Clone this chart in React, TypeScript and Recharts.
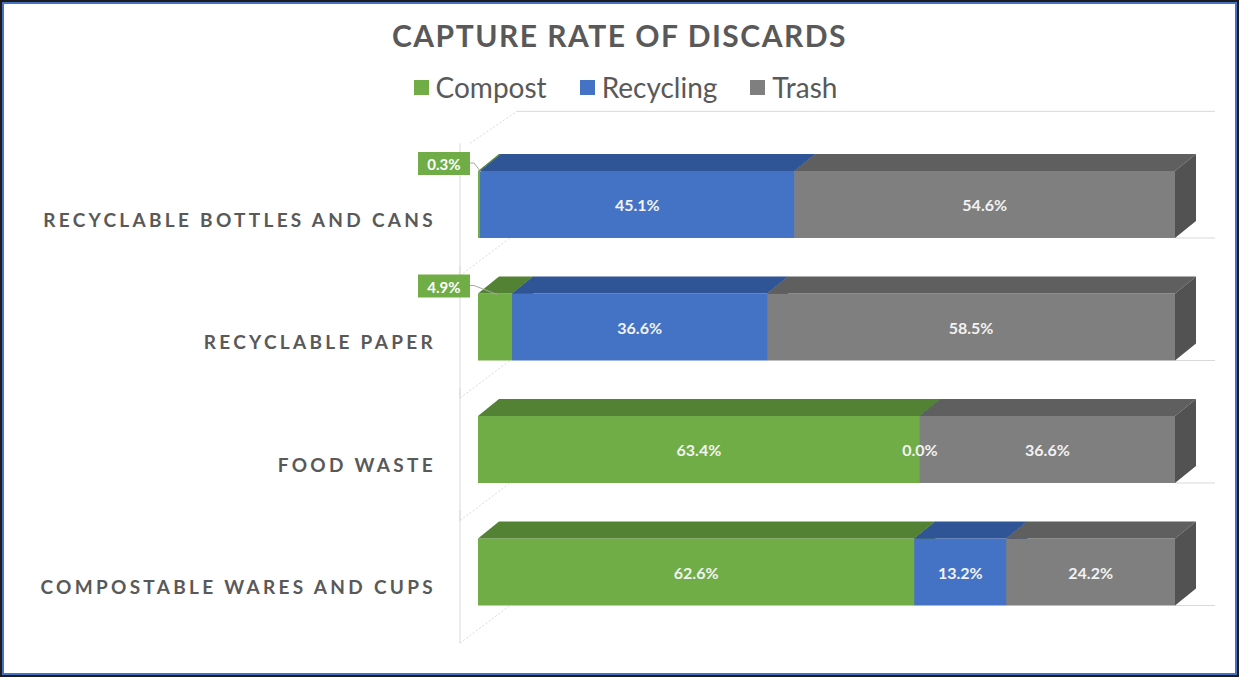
import React from "react";
import { BarChart, Bar, XAxis, YAxis, LabelList } from "recharts";

const categories = [
  "RECYCLABLE BOTTLES AND CANS",
  "RECYCLABLE PAPER",
  "FOOD WASTE",
  "COMPOSTABLE WARES AND CUPS",
];
const compost = [0.3, 4.9, 63.4, 62.6];
const recycling = [45.1, 36.6, 0.0, 13.2];
const trash = [54.6, 58.5, 36.6, 24.2];

const series = [
  { key: "compost", name: "Compost", front: "#70ad47", top: "#548235", side: "#4e7a31" },
  { key: "recycling", name: "Recycling", front: "#4472c4", top: "#2f5597", side: "#2c4f8c" },
  { key: "trash", name: "Trash", front: "#7f7f7f", top: "#5f5f5f", side: "#525252" },
];

const data = categories.map((name, i) => ({
  name,
  compost: compost[i],
  recycling: recycling[i],
  trash: trash[i],
}));

const FONT = "Lato, 'Open Sans', sans-serif";
const TEXT = "#595959";
const DX = 21;
const DY = 17;
const WALL = "#d9d9d9";

function make3D(s: (typeof series)[number], isFirst: boolean, isLast: boolean) {
  return (props: any) => {
    const { x, y, width, height, background, index } = props;
    const w = Math.max(0, width);
    const bgx = background ? background.x : x;
    const bgw = background ? background.width : 0;
    const gap = (122.33 - height) / 2;
    return (
      <g>
        {isFirst && (
          <g stroke={WALL} fill="none" strokeWidth={1}>
            <line x1={bgx - 18} y1={y - gap} x2={bgx - 18} y2={y + height + gap + 10} />
            <line
              x1={bgx - 18}
              y1={y + height + gap + 10}
              x2={bgx + 32}
              y2={y + height}
              strokeDasharray="2 2"
            />
            {index === 0 && (
              <>
                <line x1={bgx - 8} y1={y - gap} x2={bgx + 39} y2={y - gap - 32} strokeDasharray="2 2" />
                <line x1={bgx + 39} y1={y - gap - 32} x2={bgx + bgw + 40} y2={y - gap - 32} />
              </>
            )}
          </g>
        )}
        {isLast && (
          <line x1={x + w} y1={y + height} x2={x + w + 40} y2={y + height} stroke={WALL} />
        )}
        <rect x={x} y={y} width={w} height={height} fill={s.front} />
        <polygon
          points={`${x},${y} ${x + DX},${y - DY} ${x + w + DX},${y - DY} ${x + w},${y}`}
          fill={s.top}
        />
        <polygon
          points={`${x + w},${y} ${x + w + DX},${y - DY} ${x + w + DX},${y + height - DY} ${x + w},${y + height}`}
          fill={s.side}
        />
      </g>
    );
  };
}

function makeLabel(s: (typeof series)[number]) {
  return (props: any) => {
    const { x, y, width, height, value } = props;
    const text = `${Number(value).toFixed(1)}%`;
    if (s.key === "compost" && value < 10) {
      const bx = x - 60;
      const by = y - 19;
      return (
        <g>
          <polyline
            points={`${bx + 52},${by + 11} ${bx + 56},${by + 11} ${x + width / 2 + 2},${y + 1}`}
            fill="none"
            stroke="#a6a6a6"
            strokeWidth={1}
          />
          <rect x={bx} y={by} width={52} height={23} fill={s.front} />
          <text
            x={bx + 26}
            y={by + 12}
            textAnchor="middle"
            dominantBaseline="central"
            fill="#ffffff"
            fontFamily={FONT}
            fontWeight={700}
            fontSize={15}
          >
            {text}
          </text>
        </g>
      );
    }
    return (
      <text
        x={x + width / 2}
        y={y + height / 2}
        textAnchor="middle"
        dominantBaseline="central"
        fill="#f2f2f2"
        fontFamily={FONT}
        fontWeight={700}
        fontSize={16}
      >
        {text}
      </text>
    );
  };
}

const CategoryTick = (props: any) => {
  const { x, y, payload } = props;
  return (
    <text
      x={x}
      y={y + 15}
      textAnchor="end"
      dominantBaseline="central"
      fill={TEXT}
      fontFamily={FONT}
      fontWeight={700}
      fontSize={19}
      letterSpacing={3.3}
    >
      {payload.value}
    </text>
  );
};

export default function App() {
  return (
    <div
      style={{
        position: "absolute",
        left: 0,
        top: 0,
        width: 1239,
        height: 677,
        boxSizing: "border-box",
        border: "2px solid #1c1c1c",
        background: "#fff",
      }}
    >
      <div
        style={{
          position: "absolute",
          inset: 0,
          border: "2px solid #4472c4",
          boxSizing: "border-box",
        }}
      />
      <div
        style={{
          position: "absolute",
          left: -2,
          top: 15,
          width: 1239,
          textAlign: "center",
          fontFamily: FONT,
          fontWeight: 700,
          fontSize: 30,
          color: TEXT,
          letterSpacing: 1.5,
        }}
      >
        CAPTURE RATE OF DISCARDS
      </div>
      <div
        style={{
          position: "absolute",
          left: 4,
          top: 68,
          width: 1239,
          display: "flex",
          justifyContent: "center",
          gap: 33,
          fontFamily: FONT,
          fontSize: 28,
          color: TEXT,
        }}
      >
        {series.map((s) => (
          <div key={s.key} style={{ display: "flex", alignItems: "center", gap: 7 }}>
            <span style={{ width: 15, height: 15, background: s.front, display: "inline-block" }} />
            <span>{s.name}</span>
          </div>
        ))}
      </div>
      <div style={{ position: "absolute", left: -2, top: -2 }}>
        <BarChart
          width={1239}
          height={677}
          data={data}
          layout="vertical"
          margin={{ top: 143, right: 64, bottom: 44, left: 0 }}
          barSize={67}
        >
          <XAxis type="number" domain={[0, 100]} hide />
          <YAxis
            type="category"
            dataKey="name"
            width={478}
            axisLine={false}
            tickLine={false}
            tickSize={0}
            tickMargin={42}
            tick={<CategoryTick />}
          />
          {series.map((s, i) => (
            <Bar
              key={s.key}
              dataKey={s.key}
              name={s.name}
              stackId="a"
              fill={s.front}
              isAnimationActive={false}
              shape={make3D(s, i === 0, i === series.length - 1)}
            >
              <LabelList dataKey={s.key} content={makeLabel(s)} />
            </Bar>
          ))}
        </BarChart>
      </div>
    </div>
  );
}
